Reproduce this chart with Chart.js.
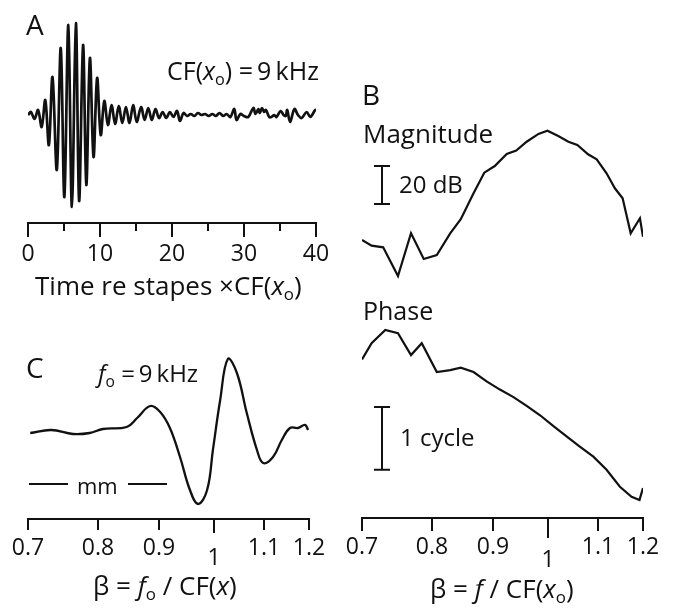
<!DOCTYPE html>
<html>
<head>
<meta charset="utf-8">
<script src="https://cdn.jsdelivr.net/npm/chart.js@4.4.1/dist/chart.umd.min.js"></script>
<style>
    html, body { margin: 0; padding: 0; background: #fff; }
    body { width: 675px; height: 608px; position: relative; overflow: hidden; font-family: "Open Sans", sans-serif; color: #111; }
    canvas { position: absolute; }
    .lbl { position: absolute; white-space: nowrap; line-height: 1; font-size: 26px; }
    .sub { font-size: 0.65em; position: relative; top: 0.3em; }
    .bar { position: absolute; height: 2px; background: #111; }
</style>
</head>
<body>
<canvas id="chartA" width="340" height="300" style="left:0;top:0"></canvas>
<canvas id="chartB" width="335" height="608" style="left:340px;top:0"></canvas>
<canvas id="chartC" width="340" height="308" style="left:0;top:300px"></canvas>

<div class="lbl" style="left:26px;top:10px;font-size:28px">A</div>
<div class="lbl" style="left:167px;top:58px;font-size:25px">CF(<i>x</i><span class="sub">o</span>) =&thinsp;9&thinsp;kHz</div>
<div class="lbl" style="left:35px;top:272px">Time re stapes ×CF(<i>x</i><span class="sub">o</span>)</div>

<div class="lbl" style="left:362px;top:80px;font-size:28px">B</div>
<div class="lbl" style="left:363px;top:120px">Magnitude</div>
<div class="lbl" style="left:399px;top:172px;font-size:24px">20 dB</div>
<div class="lbl" style="left:363px;top:298px;font-size:25px">Phase</div>
<div class="lbl" style="left:400px;top:425px;font-size:24px">1 cycle</div>
<div class="lbl" style="left:430px;top:575px">β = <i>f</i> / CF(<i>x</i><span class="sub">o</span>)</div>

<div class="lbl" style="left:26px;top:353px;font-size:28px">C</div>
<div class="lbl" style="left:98px;top:361px;font-size:24px"><i>f</i><span class="sub">o</span> =&thinsp;9&thinsp;kHz</div>
<div class="bar" style="left:29px;top:483px;width:39px"></div>
<div class="lbl" style="left:77px;top:474px;font-size:22px">mm</div>
<div class="bar" style="left:128px;top:483px;width:39px"></div>
<div class="lbl" style="left:93px;top:572px">β = <i>f</i><span class="sub">o</span> / CF(<i>x</i>)</div>

<script>
// Panel A: basilar membrane click response, time re stapes x CF
const timeA = [0, 0.4, 0.9, 1.4, 1.9, 2.4, 2.9, 3.4, 4.0, 4.55, 5.05, 5.6, 6.1, 6.65, 7.1, 7.65, 8.1, 8.6, 9.1, 9.6, 10.1, 10.6,
    11.1, 11.6, 12.1, 12.6, 13.1, 13.6, 14.1, 14.6, 15.1, 15.7, 16.2, 16.7, 17.2, 17.7, 18.2, 18.7, 19.2, 19.7, 20.2, 20.7,
    21.1, 21.6, 22.1, 22.6, 23.1, 23.6, 24.1, 24.6, 25.1, 25.6, 26.1, 26.6, 27.1, 27.6, 28.1, 28.65, 28.96, 29.5, 30.0,
    30.6, 31.3, 31.6, 32.0, 32.2, 32.5, 32.8, 33.05, 33.5, 33.8, 34.2, 34.5, 35.1, 35.5, 35.8, 36.0, 36.4, 37.0, 37.5,
    38.0, 38.7, 39.2, 39.9, 40];
const waveA = [0, 3, -4, 5, -12, 15, -30, 38, -55, 67, -82, 90, -92, 92, -86, 70, -70, 57, -42, 37, -20, 14,
    -10, 10, -9, 9, -8, 8, -8, 10, -7, 8, -5, 7, -5, 6, -3, 3, -3, 3, -2, 4,
    -6, 2, -1, 1, -1, 2, 0, 1, -1, 1, -1, 2, -1, 1, -2, 6, -5, 1, -1,
    -2, 7, 1, 6, 2, 7, 3, 5, -2, -2, 0, -2, 4, 0, -1, 5, -7, 6, 0,
    -3, 3, -2, 5, 4];
const timeTicks = [0, 10, 20, 30, 40];
const timeMinorTicks = [5, 15, 25, 35];

// Panel B: magnitude (dB re peak) and phase (cycles) vs beta = f / CF(xo)
const betaMag = [0.700, 0.713, 0.729, 0.750, 0.769, 0.788, 0.808, 0.829, 0.846, 0.867, 0.885, 0.903, 0.924, 0.941,
    0.960, 0.982, 0.999, 1.020, 1.040, 1.058, 1.080, 1.098, 1.119, 1.137, 1.154, 1.172, 1.193, 1.200];
const magDb = [-57.5, -60.5, -61.4, -76.5, -54, -67.5, -65.4, -54, -46.6, -32.9, -22.1, -18.6, -12.3, -10.5,
    -5.8, -1.7, 0, -2.8, -5.8, -7.5, -12.4, -15.1, -22.4, -30.3, -35.6, -54, -46.1, -55.8];
const betaPhase = [0.700, 0.713, 0.732, 0.750, 0.769, 0.785, 0.808, 0.829, 0.846, 0.867, 0.889, 0.912, 0.936,
    0.960, 0.985, 1.010, 1.037, 1.063, 1.091, 1.119, 1.148, 1.174, 1.192, 1.200];
const phaseCyc = [-0.47, -0.21, 0, -0.05, -0.40, -0.21, -0.67, -0.64, -0.60, -0.67, -0.82, -0.95, -1.07,
    -1.21, -1.36, -1.53, -1.70, -1.86, -2.02, -2.23, -2.50, -2.66, -2.71, -2.52];

// Panel C: spatial pattern at fo = 9 kHz vs beta = fo / CF(x)
const betaC = [0.703, 0.732, 0.763, 0.788, 0.808, 0.846, 0.863, 0.885, 0.902, 0.919, 0.937, 0.955, 0.970, 0.987,
    0.998, 1.012, 1.027, 1.045, 1.065, 1.086, 1.099, 1.120, 1.139, 1.157, 1.175, 1.191, 1.198];
const dispC = [-1, 2, -2, -1, 3, 5, 14, 26, 20, 4, -25, -58, -72, -58,
    -18, 32, 73, 59, 19, -18, -31, -25, -8, 4, 4, 7, 2];

const betaTicks = [0.7, 0.8, 0.9, 1, 1.1, 1.2];
const betaTickLabels = ['0.7', '0.8', '0.9', '1', '1.1', '1.2'];

const INK = '#111';
const tickFont = '23px "Open Sans", sans-serif';

function pairs(xs, ys) {
    return xs.map((x, i) => ({ x: x, y: ys[i] }));
}

// draws the bottom axis line, ticks and tick labels using the chart's x scale
function axisPlugin(cfg) {
    return {
        id: 'axisPainter',
        afterDatasetsDraw(chart) {
            const ctx = chart.ctx;
            const xs = chart.scales.x;
            ctx.save();
            ctx.strokeStyle = INK;
            ctx.fillStyle = INK;
            ctx.lineWidth = 2;
            const x0 = xs.getPixelForValue(cfg.min);
            const x1 = xs.getPixelForValue(cfg.max);
            ctx.beginPath();
            ctx.moveTo(x0 - 1, cfg.lineY);
            ctx.lineTo(x1 + 1, cfg.lineY);
            ctx.stroke();
            ctx.font = tickFont;
            ctx.textAlign = 'center';
            ctx.textBaseline = 'middle';
            cfg.ticks.forEach(tk => {
                const px = Math.round(xs.getPixelForValue(tk.value));
                ctx.beginPath();
                ctx.moveTo(px, cfg.lineY - 1);
                ctx.lineTo(px, cfg.lineY + tk.len);
                ctx.stroke();
                if (tk.label) {
                    ctx.fillText(tk.label, px, tk.labelY);
                }
            });
            ctx.restore();
        }
    };
}

// vertical scale bars with end caps, placed through the data scales
function scaleBarPlugin(bars) {
    return {
        id: 'scaleBars',
        afterDatasetsDraw(chart) {
            const ctx = chart.ctx;
            ctx.save();
            ctx.strokeStyle = INK;
            ctx.lineWidth = 2;
            bars.forEach(b => {
                const px = Math.round(chart.scales.x.getPixelForValue(b.x));
                const ys = chart.scales[b.axis];
                const top = ys.getPixelForValue(b.top);
                const bot = ys.getPixelForValue(b.bottom);
                ctx.beginPath();
                ctx.moveTo(px, top);
                ctx.lineTo(px, bot);
                ctx.moveTo(px - 8, top);
                ctx.lineTo(px + 8, top);
                ctx.moveTo(px - 8, bot);
                ctx.lineTo(px + 8, bot);
                ctx.stroke();
            });
            ctx.restore();
        }
    };
}

function betaTickList(lenNormal, lenOne, yNormal, yOne) {
    return betaTicks.map((v, i) => ({
        value: v,
        len: v === 1 ? lenOne : lenNormal,
        label: betaTickLabels[i],
        labelY: v === 1 ? yOne : yNormal
    }));
}

const baseOptions = {
    responsive: false,
    animation: false,
    events: [],
    plugins: { legend: { display: false }, tooltip: { enabled: false } },
    elements: { point: { radius: 0 } }
};

// Panel A
new Chart(document.getElementById('chartA'), {
    type: 'line',
    data: {
        datasets: [{
            data: pairs(timeA, waveA),
            borderColor: INK,
            borderWidth: 2.7,
            tension: 0.35,
            fill: false
        }]
    },
    options: {
        ...baseOptions,
        layout: { padding: { left: 28, right: 24, top: 15, bottom: 85 } },
        scales: {
            x: { type: 'linear', min: 0, max: 40, display: false },
            y: { min: -100, max: 100, display: false }
        }
    },
    plugins: [axisPlugin({
        min: 0, max: 40, lineY: 223,
        ticks: timeTicks.map(v => ({ value: v, len: 14, label: String(v), labelY: 254 }))
            .concat(timeMinorTicks.map(v => ({ value: v, len: 8 })))
    })]
});

// Panel B: magnitude on top, phase below, one shared beta axis
const magPxPerDb = 1.9, magZeroY = 130.7;
const phPxPerCycle = 62.7, phZeroY = 330;
const bTop = 100, bBottom = 510;

new Chart(document.getElementById('chartB'), {
    type: 'line',
    data: {
        datasets: [
            { data: pairs(betaMag, magDb), yAxisID: 'yM', borderColor: INK, borderWidth: 2.2, tension: 0, fill: false },
            { data: pairs(betaPhase, phaseCyc), yAxisID: 'yP', borderColor: INK, borderWidth: 2.2, tension: 0, fill: false }
        ]
    },
    options: {
        ...baseOptions,
        layout: { padding: { left: 22, right: 32, top: bTop, bottom: 608 - bBottom } },
        scales: {
            x: { type: 'logarithmic', min: 0.7, max: 1.2, display: false },
            yM: { type: 'linear', display: false,
                max: (magZeroY - bTop) / magPxPerDb, min: -(bBottom - magZeroY) / magPxPerDb },
            yP: { type: 'linear', display: false,
                max: (phZeroY - bTop) / phPxPerCycle, min: -(bBottom - phZeroY) / phPxPerCycle }
        }
    },
    plugins: [
        axisPlugin({ min: 0.7, max: 1.2, lineY: 518, ticks: betaTickList(13, 20, 547, 560) }),
        scaleBarPlugin([
            { axis: 'yM', x: 0.727, top: -18.6, bottom: -38.6 },
            { axis: 'yP', x: 0.727, top: -1.228, bottom: -2.228 }
        ])
    ]
});

// Panel C
new Chart(document.getElementById('chartC'), {
    type: 'line',
    data: {
        datasets: [{
            data: pairs(betaC, dispC),
            borderColor: INK,
            borderWidth: 2.3,
            tension: 0.4,
            fill: false
        }]
    },
    options: {
        ...baseOptions,
        layout: { padding: { left: 28, right: 31, top: 40, bottom: 93 } },
        scales: {
            x: { type: 'logarithmic', min: 0.7, max: 1.2, display: false },
            y: { min: -83, max: 92, display: false }
        }
    },
    plugins: [axisPlugin({ min: 0.7, max: 1.2, lineY: 219, ticks: betaTickList(11, 14, 248, 258) })]
});
</script>
</body>
</html>
